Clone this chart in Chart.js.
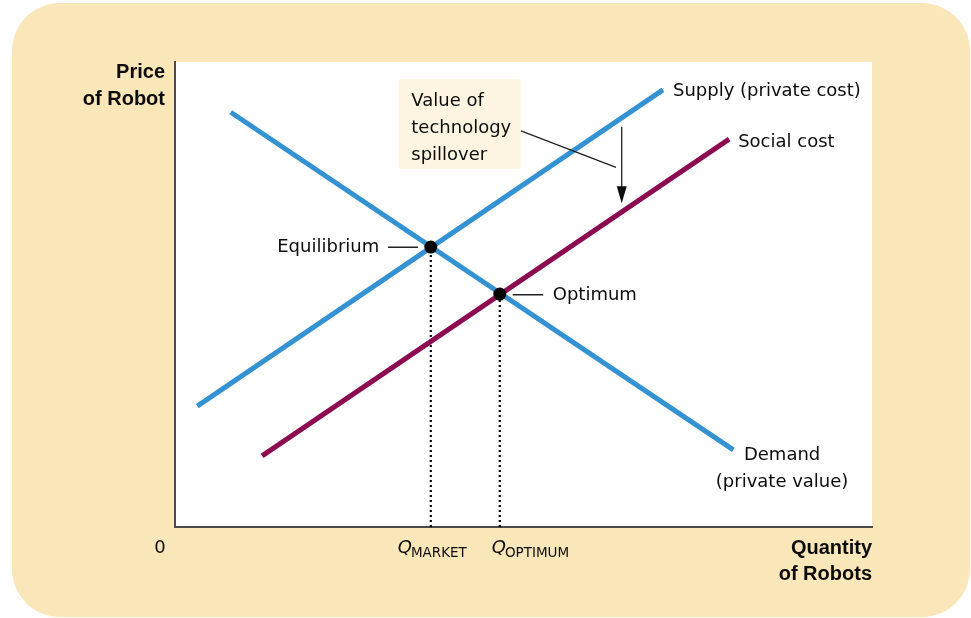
<!DOCTYPE html>
<html>
<head>
<meta charset="utf-8">
<script src="https://cdn.jsdelivr.net/npm/chart.js@4"></script>
<style>
  html, body { margin: 0; padding: 0; background: #fff; }
  canvas { display: block; }
</style>
</head>
<body>
<canvas id="chart" width="971" height="618"></canvas>
<script>
// quantity and price both run 0..100 (no ticks in the original)
const supplyX = [3.2, 70.0];
const supplyY = [26.0, 94.0];
const demandX = [8.0, 80.1];
const demandY = [89.2, 16.6];
const socialX = [12.5, 79.5];
const socialY = [15.3, 83.4];
const qMarket = 36.7, pMarket = 60.2;
const qOptimum = 46.6, pOptimum = 50.1;

const BLUE = '#3492d2';
const MAROON = '#8c0b50';
const REG = '18px "DejaVu Sans"';
const BOLD = 'bold 20px "Liberation Sans"';

const toPoints = (xs, ys) => xs.map((x, i) => ({ x: x, y: ys[i] }));

const drawing = {
  id: 'drawing',
  beforeDraw(chart) {
    const { ctx, chartArea: a } = chart;
    ctx.save();
    ctx.fillStyle = '#f9e6b9';
    ctx.beginPath();
    ctx.roundRect(12, 3, 958, 614, 48);
    ctx.fill();
    ctx.fillStyle = '#ffffff';
    ctx.fillRect(a.left, a.top, a.right - a.left, a.bottom - a.top);
    ctx.restore();
  },
  afterDatasetsDraw(chart) {
    const { ctx, chartArea: a, scales: { x, y } } = chart;
    const px = v => x.getPixelForValue(v);
    const py = v => y.getPixelForValue(v);
    ctx.save();
    ctx.fillStyle = '#0d0d0d';
    ctx.strokeStyle = '#222';
    ctx.textBaseline = 'alphabetic';

    // curve labels
    ctx.font = REG;
    ctx.textAlign = 'left';
    ctx.fillText('Supply (private cost)', px(71.45), py(92.7));
    ctx.fillText('Social cost', px(80.8), py(81.8));
    ctx.textAlign = 'center';
    ctx.fillText('Demand', px(87.1), py(14.4));
    ctx.fillText('(private value)', px(87.1), py(8.6));

    // equilibrium / optimum labels with leaders
    ctx.textAlign = 'right';
    ctx.fillText('Equilibrium', px(29.3), py(59.1));
    ctx.textAlign = 'left';
    ctx.fillText('Optimum', px(54.2), py(48.9));
    ctx.lineWidth = 1.5;
    ctx.beginPath();
    ctx.moveTo(px(30.56), py(60.15)); ctx.lineTo(px(34.86), py(60.15));
    ctx.moveTo(px(48.45), py(49.96)); ctx.lineTo(px(52.84), py(49.96));
    ctx.stroke();

    // spillover callout
    const bx = px(32.04), by = py(96.28);
    ctx.fillStyle = '#fdf5e1';
    ctx.fillRect(bx, by, px(49.6) - bx, py(77.05) - by);
    ctx.fillStyle = '#0d0d0d';
    ctx.fillText('Value of', px(33.9), py(90.6));
    ctx.fillText('technology', px(33.9), py(84.67));
    ctx.fillText('spillover', px(33.9), py(78.92));
    ctx.lineWidth = 1.3;
    ctx.beginPath();
    ctx.moveTo(px(49.64), py(85.2));
    ctx.lineTo(px(63.27), py(77.35));
    ctx.stroke();
    const ax = px(64.09), ay1 = py(86.1), ay2 = py(69.6);
    ctx.beginPath();
    ctx.moveTo(ax, ay1);
    ctx.lineTo(ax, ay2 - 12);
    ctx.stroke();
    ctx.beginPath();
    ctx.moveTo(ax, ay2);
    ctx.lineTo(ax - 5, ay2 - 17);
    ctx.lineTo(ax + 5, ay2 - 17);
    ctx.closePath();
    ctx.fill();

    // axis titles
    ctx.font = BOLD;
    ctx.textAlign = 'right';
    ctx.fillText('Price', a.left - 10, a.top + 16);
    ctx.fillText('of Robot', a.left - 10, a.top + 43);
    ctx.fillText('Quantity', a.right, a.bottom + 27);
    ctx.fillText('of Robots', a.right, a.bottom + 53);

    // axis value labels
    ctx.font = REG;
    ctx.textAlign = 'center';
    ctx.fillText('0', a.left - 15, a.bottom + 26);
    const qLabel = (q, sub, off) => {
      ctx.textAlign = 'left';
      ctx.font = 'italic ' + REG;
      const qx = px(q) + off;
      ctx.fillText('Q', qx, a.bottom + 26);
      const w = ctx.measureText('Q').width;
      ctx.font = '13.5px "DejaVu Sans"';
      ctx.fillText(sub, qx + w - 1, a.bottom + 30);
    };
    qLabel(qMarket, 'MARKET', -33);
    qLabel(qOptimum, 'OPTIMUM', -8);
    ctx.restore();
  }
};

new Chart(document.getElementById('chart'), {
  type: 'scatter',
  data: {
    datasets: [
      {
        label: 'Points',
        data: [{ x: qMarket, y: pMarket }, { x: qOptimum, y: pOptimum }],
        pointRadius: 6.5,
        pointBackgroundColor: '#000',
        pointBorderWidth: 0,
        showLine: false
      },
      {
        label: 'Social cost',
        data: toPoints(socialX, socialY),
        borderColor: MAROON,
        borderWidth: 5,
        pointRadius: 0,
        showLine: true
      },
      {
        label: 'Demand',
        data: toPoints(demandX, demandY),
        borderColor: BLUE,
        borderWidth: 5,
        pointRadius: 0,
        showLine: true
      },
      {
        label: 'Supply',
        data: toPoints(supplyX, supplyY),
        borderColor: BLUE,
        borderWidth: 5,
        pointRadius: 0,
        showLine: true
      },
      {
        label: 'Q market',
        data: [{ x: qMarket, y: 0 }, { x: qMarket, y: pMarket }],
        borderColor: '#000',
        borderWidth: 2.2,
        borderDash: [2, 3],
        pointRadius: 0,
        showLine: true
      },
      {
        label: 'Q optimum',
        data: [{ x: qOptimum, y: 0 }, { x: qOptimum, y: pOptimum }],
        borderColor: '#000',
        borderWidth: 2.2,
        borderDash: [2, 3],
        pointRadius: 0,
        showLine: true
      }
    ]
  },
  options: {
    responsive: false,
    animation: false,
    layout: { padding: { left: 175, right: 99, top: 62, bottom: 91 } },
    plugins: { legend: { display: false }, tooltip: { enabled: false } },
    scales: {
      x: {
        min: 0, max: 100,
        ticks: { display: false },
        grid: { display: false, drawTicks: false },
        border: { display: true, color: '#4a4a4a', width: 2 }
      },
      y: {
        min: 0, max: 100,
        ticks: { display: false },
        grid: { display: false, drawTicks: false },
        border: { display: true, color: '#4a4a4a', width: 2 }
      }
    }
  },
  plugins: [drawing]
});
</script>
</body>
</html>
